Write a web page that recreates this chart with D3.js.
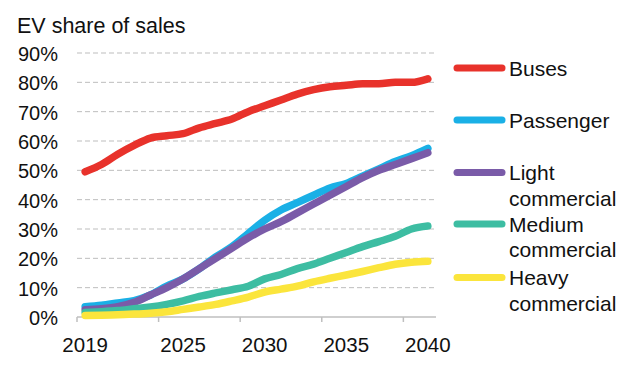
<!DOCTYPE html>
<html>
<head>
<meta charset="utf-8">
<script src="https://cdn.jsdelivr.net/npm/d3@7"></script>
<style>
  body { margin: 0; background: #fff; }
  text { font-family: "Liberation Sans", Arial, sans-serif; fill: #111; }
</style>
</head>
<body>
<script>
const years = d3.range(2019, 2041)
const buses = [49.5, 52, 55.5, 58.5, 61, 61.8, 62.5, 64.5, 66, 67.5, 70, 72, 74, 76, 77.5, 78.5, 79, 79.5, 79.5, 80, 80, 81.2]
const passenger = [3.5, 4, 4.8, 5.6, 7.5, 10.5, 13, 16.5, 20.5, 24, 28.5, 33, 36.5, 39, 41.5, 44, 45.5, 48, 50.5, 53, 55, 57.5]
const lightCom = [2.5, 2.8, 3.5, 5, 7.5, 10, 13, 16.5, 20, 23.5, 27, 30, 32.5, 35.5, 38.5, 41.5, 44.5, 47.5, 50, 52, 54, 56]
const mediumCom = [1.5, 1.8, 2.2, 2.8, 3.4, 4.3, 5.5, 7, 8.2, 9.3, 10.5, 13, 14.5, 16.5, 18, 20, 22, 24, 25.7, 27.5, 30, 31]
const heavyCom = [0.5, 0.6, 0.8, 1, 1.3, 1.8, 2.6, 3.4, 4.3, 5.5, 6.8, 8.5, 9.5, 10.5, 12, 13.2, 14.3, 15.5, 16.8, 18, 18.7, 19]
const yTicks = [0, 10, 20, 30, 40, 50, 60, 70, 80, 90]
const xLabels = [2019, 2025, 2030, 2035, 2040]
const xTickYears = [2018.5, 2023.5, 2028.5, 2033.5, 2038.5]

const series = [
    {name: ['Buses'], values: buses, color: '#e8322b'},
    {name: ['Passenger'], values: passenger, color: '#1ab0e6'},
    {name: ['Light', 'commercial'], values: lightCom, color: '#7a5ba8'},
    {name: ['Medium', 'commercial'], values: mediumCom, color: '#3dbda2'},
    {name: ['Heavy', 'commercial'], values: heavyCom, color: '#fbe53c'}
]

const svg = d3.select('body').append('svg')
    .attr('width', 640)
    .attr('height', 368)

const x = d3.scaleLinear().domain([2018.5, 2040.5]).range([77, 436])
const y = d3.scaleLinear().domain([0, 90]).range([317, 53])

svg.append('text')
    .attr('x', 17)
    .attr('y', 33)
    .attr('font-size', 21.5)
    .text('EV share of sales')

// gridlines
svg.append('g').selectAll('line')
    .data(yTicks.filter(d => d > 0))
    .join('line')
    .attr('x1', 77).attr('x2', 436)
    .attr('y1', d => y(d)).attr('y2', d => y(d))
    .attr('stroke', '#bdbdbd')
    .attr('stroke-width', 1)
    .attr('stroke-dasharray', '5,3')

// y labels
svg.append('g').selectAll('text')
    .data(yTicks)
    .join('text')
    .attr('x', 58)
    .attr('y', d => y(d) + 8)
    .attr('text-anchor', 'end')
    .attr('font-size', 20)
    .text(d => d + '%')

// x axis
const xAxis = svg.append('g')
xAxis.append('line')
    .attr('x1', 77).attr('x2', 436)
    .attr('y1', y(0)).attr('y2', y(0))
    .attr('stroke', '#bfbfbf')
    .attr('stroke-width', 1.5)
xAxis.selectAll('.tick')
    .data(xTickYears)
    .join('line')
    .attr('x1', d => x(d)).attr('x2', d => x(d))
    .attr('y1', y(0)).attr('y2', y(0) + 5)
    .attr('stroke', '#bfbfbf')
    .attr('stroke-width', 1.5)
xAxis.selectAll('text')
    .data(xLabels)
    .join('text')
    .attr('x', d => x(d))
    .attr('y', 352)
    .attr('text-anchor', 'middle')
    .attr('font-size', 20.5)
    .text(d => d)

const line = d3.line()
    .x((d, i) => x(years[i]))
    .y(d => y(d))
    .curve(d3.curveMonotoneX)

svg.append('g').selectAll('path')
    .data(series)
    .join('path')
    .attr('d', d => line(d.values))
    .attr('fill', 'none')
    .attr('stroke', d => d.color)
    .attr('stroke-width', 7.5)
    .attr('stroke-linecap', 'round')
    .attr('stroke-linejoin', 'round')

// legend
const legendY = [68, 120, 172.5, 224, 277.5]
const legend = svg.append('g').selectAll('g')
    .data(series)
    .join('g')
    .attr('transform', (d, i) => `translate(0,${legendY[i]})`)

legend.append('line')
    .attr('x1', 457).attr('x2', 502)
    .attr('stroke', d => d.color)
    .attr('stroke-width', 7)
    .attr('stroke-linecap', 'round')

legend.append('text')
    .attr('x', 509)
    .attr('y', 7.5)
    .attr('font-size', 21)
    .selectAll('tspan')
    .data(d => d.name)
    .join('tspan')
    .attr('x', 509)
    .attr('dy', (d, i) => i === 0 ? 0 : 25.5)
    .text(d => d)
</script>
</body>
</html>
